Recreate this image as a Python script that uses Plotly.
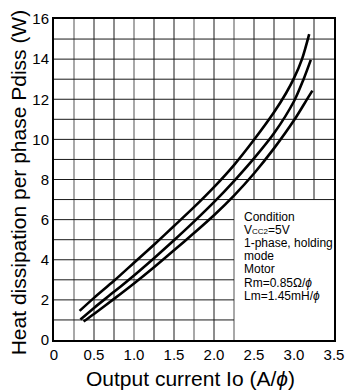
import plotly.graph_objects as go

# ---- data ----
top_x = [0.32, 0.5, 0.75, 1.0, 1.25, 1.5, 1.75, 2.0, 2.25, 2.5, 2.75, 2.9, 3.0, 3.1, 3.19]
top_y = [1.45, 2.1, 2.95, 3.85, 4.75, 5.68, 6.62, 7.62, 8.72, 9.98, 11.35, 12.3, 13.05, 14.0, 15.25]

mid_x = [0.33, 0.5, 0.75, 1.0, 1.25, 1.5, 1.75, 2.0, 2.25, 2.5, 2.75, 3.0, 3.12, 3.21]
mid_y = [1.02, 1.6, 2.4, 3.22, 4.08, 4.97, 5.9, 6.87, 7.92, 9.05, 10.3, 11.9, 13.0, 13.96]

bot_x = [0.37, 0.5, 0.75, 1.0, 1.25, 1.5, 1.75, 2.0, 2.25, 2.5, 2.75, 3.0, 3.16, 3.23]
bot_y = [0.92, 1.3, 2.05, 2.82, 3.63, 4.47, 5.33, 6.22, 7.2, 8.3, 9.55, 10.95, 11.98, 12.43]

x_ticks = [0, 0.5, 1.0, 1.5, 2.0, 2.5, 3.0, 3.5]
x_ticktext = ["0", "0.5", "1.0", "1.5", "2.0", "2.5", "3.0", "3.5"]
y_ticks = [0, 2, 4, 6, 8, 10, 12, 14, 16]

x_grid = [0.25 * i for i in range(1, 14)]
y_grid = list(range(1, 16))
gray_x = [0.25, 1.0, 1.75, 2.25]

box_x0, box_y1 = 2.25, 7

note_lines = [
    "Condition",
    "V<span style='font-size:8px'>CC2</span>=5V",
    "1-phase, holding",
    "mode",
    "Motor",
    "Rm=0.85Ω/<i>ϕ</i>",
    "Lm=1.45mH/<i>ϕ</i>",
]
note_px = [213.5, 227, 240.5, 254, 267.5, 281.5, 295]

FONT = "Liberation Sans, Arial, Helvetica, sans-serif"
W, H = 354, 392
ML, MR, MT, MB = 54, 13, 10, 52
PW, PH = W - ML - MR, H - MT - MB

fig = go.Figure()
for xs, ys in [(top_x, top_y), (mid_x, mid_y), (bot_x, bot_y)]:
    fig.add_trace(go.Scatter(x=xs, y=ys, mode="lines",
                             line=dict(color="black", width=2.6, shape="spline", smoothing=0.8),
                             showlegend=False, hoverinfo="skip"))

shapes = []
for gx in x_grid:
    gray = any(abs(gx - g) < 1e-9 for g in gray_x)
    y0 = 0 if gx <= box_x0 + 1e-9 else box_y1
    shapes.append(dict(type="line", xref="x", yref="y", x0=gx, x1=gx, y0=y0, y1=16,
                       line=dict(color="#a8a8a8" if gray else "#1a1a1a", width=2 if gray else 1),
                       layer="below"))
for gy in y_grid:
    x1 = 3.5 if gy >= box_y1 else box_x0
    shapes.append(dict(type="line", xref="x", yref="y", x0=0, x1=x1, y0=gy, y1=gy,
                       line=dict(color="#1a1a1a", width=1), layer="below"))

annotations = []
for txt, py in zip(note_lines, note_px):
    annotations.append(dict(text=txt, xref="paper", yref="paper",
                            x=(247 - ML) / PW, y=(MT + PH - py) / PH,
                            xanchor="left", yanchor="middle", showarrow=False,
                            font=dict(family=FONT, size=12, color="black")))
annotations.append(dict(text="Heat dissipation per phase Pdiss (W)", xref="paper", yref="paper",
                        x=(18 - ML) / PW, y=(MT + PH - 178) / PH, textangle=-90,
                        xanchor="center", yanchor="middle", showarrow=False,
                        font=dict(family=FONT, size=21, color="black")))
annotations.append(dict(text="Output current Io (A/<i>ϕ</i>)", xref="paper", yref="paper",
                        x=(194 - ML) / PW, y=(MT + PH - 380) / PH,
                        xanchor="center", yanchor="middle", showarrow=False,
                        font=dict(family=FONT, size=21, color="black")))

fig.update_layout(
    width=W, height=H,
    margin=dict(l=ML, r=MR, t=MT, b=MB),
    paper_bgcolor="white", plot_bgcolor="white",
    shapes=shapes, annotations=annotations,
    font=dict(family=FONT, size=15, color="black"),
    xaxis=dict(range=[0, 3.5], tickvals=x_ticks, ticktext=x_ticktext, showgrid=False,
               zeroline=False, showline=True, linecolor="black", linewidth=2, mirror=True,
               ticks="", tickfont=dict(family=FONT, size=15)),
    yaxis=dict(range=[0, 16], tickvals=y_ticks, showgrid=False,
               zeroline=False, showline=True, linecolor="black", linewidth=2, mirror=True,
               ticks="", tickfont=dict(family=FONT, size=15)),
)

fig.write_html("out.html")
